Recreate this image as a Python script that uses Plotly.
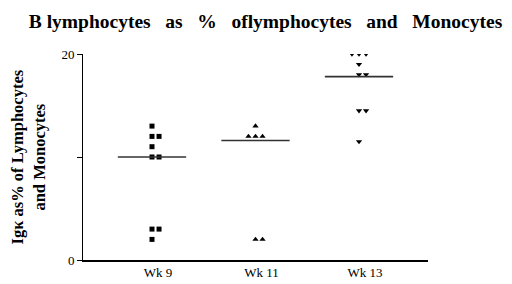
import plotly.graph_objects as go
from collections import Counter

categories = ["Wk 9", "Wk 11", "Wk 13"]
wk9 = [13, 12, 12, 11, 10, 10, 3, 3, 2]
wk11 = [13, 12, 12, 12, 2, 2]
wk13 = [20, 20, 20, 19, 18, 18, 14.5, 14.5, 11.5]
medians = [10.0, 11.6, 17.8]
symbols = ["square", "triangle-up", "triangle-down"]

SERIF = "Liberation Serif"
step = 0.068
half = 0.33

def spread(vals, center):
    xs = []
    seen = Counter()
    counts = Counter(vals)
    for v in vals:
        n = counts[v]
        k = seen[v]
        seen[v] += 1
        xs.append(center + (k - (n - 1) // 2) * step)
    return xs

fig = go.Figure()
for i, (vals, sym) in enumerate(zip([wk9, wk11, wk13], symbols)):
    fig.add_trace(go.Scatter(
        x=spread(vals, i), y=vals, mode="markers",
        marker=dict(symbol=sym, size=5 if sym == "square" else 5.5, color="black",
                    line=dict(width=0)),
        showlegend=False, hoverinfo="skip"))
    fig.add_trace(go.Scatter(
        x=[i - half, i + half], y=[medians[i], medians[i]], mode="lines",
        line=dict(color="#333333", width=1.6), showlegend=False, hoverinfo="skip"))

fig.update_layout(
    width=512, height=284,
    margin=dict(l=75, r=92, t=46, b=25),
    paper_bgcolor="white", plot_bgcolor="white",
    title=dict(text="B lymphocytes   as   %   oflymphocytes   and   Monocytes",
               x=0.503, xanchor="center", y=0.955, yanchor="middle",
               font=dict(family=SERIF, size=19.5, color="black", weight="bold")),
    xaxis=dict(range=[-2/3, 8/3], tickvals=[0, 1, 2], ticktext=categories,
               showgrid=False, zeroline=False, showline=True, linecolor="black",
               linewidth=1.5, ticks="", ticklabelshift=6,
               tickfont=dict(family=SERIF, size=13, color="black")),
    yaxis=dict(range=[0, 20], tickvals=[0, 10, 20], ticktext=["0", "", "20"],
               showgrid=False, zeroline=False, showline=True, linecolor="black",
               linewidth=1, ticks="outside", ticklen=5, tickcolor="black",
               ticklabelstandoff=0,
               tickfont=dict(family=SERIF, size=13, color="black")),
    annotations=[dict(text="Igκ as% of Lymphocytes<br>and Monocytes",
                      xref="paper", yref="paper", x=-0.158, y=0.5,
                      xanchor="center", yanchor="middle", textangle=-90,
                      showarrow=False,
                      font=dict(family=SERIF, size=16.5, color="black", weight="bold"))],
)

fig.write_html("out.html")
